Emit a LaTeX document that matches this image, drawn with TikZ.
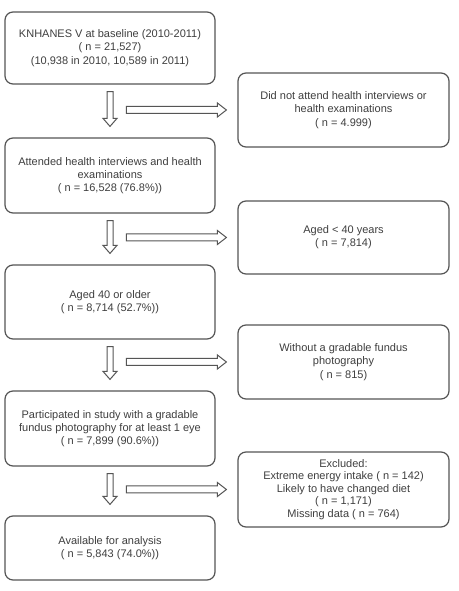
\documentclass[tikz,border=0pt]{standalone}
\usepackage{fontspec}
\setmainfont{Liberation Sans}
\usetikzlibrary{calc}
\definecolor{edge}{HTML}{555555}
\definecolor{ink}{HTML}{3F3F3F}
\tikzset{
  stage/.style={draw=edge, line width=1.2pt, rounded corners=8pt,
    minimum width=210pt, minimum height=#1, inner sep=0pt,
    align=center, text=ink, font=\fontsize{11}{13.3}\selectfont},
  stage/.default=74pt,
  blk/.style={draw=edge, line width=1pt, fill=white, line join=miter},
}
% hollow block arrow pointing down, from #1 to the tip #2
\newcommand\downblock[2]{%
  \draw[blk] let \p1=(#1), \p2=(#2) in
    (\x1-3pt,\y1) -- (\x1+3pt,\y1) -- (\x1+3pt,\y2+8pt) -- (\x1+7pt,\y2+8pt)
    -- (\x1,\y2) -- (\x1-7pt,\y2+8pt) -- (\x1-3pt,\y2+8pt) -- cycle;}
% hollow block arrow pointing right, from #1 to the tip #2
\newcommand\rightblock[2]{%
  \draw[blk] let \p1=(#1), \p2=(#2) in
    (\x1,\y1-3.5pt) -- (\x2-9pt,\y1-3.5pt) -- (\x2-9pt,\y1-7pt) -- (\x2,\y1)
    -- (\x2-9pt,\y1+7pt) -- (\x2-9pt,\y1+3.5pt) -- (\x1,\y1+3.5pt) -- cycle;}
\begin{document}
\begin{tikzpicture}[x=1pt,y=1pt]
\useasboundingbox[fill=white] (0,0) rectangle (458,591);

% main flow (left column)
\node[stage=72pt] (b1) at (110,543) {KNHANES V at baseline (2010-2011)\\( n = 21,527)\\(10,938 in 2010, 10,589 in 2011)};
\node[stage=75pt] (b2) at (110,415.5) {Attended health interviews and health\\examinations\\( n = 16,528 (76.8\%))};
\node[stage=74pt] (b3) at (110,289) {Aged 40 or older\\( n = 8,714 (52.7\%))};
\node[stage=75pt] (b4) at (110,162.5) {Participated in study with a gradable\\fundus photography for at least 1 eye\\( n = 7,899 (90.6\%))};
\node[stage=64pt] (b5) at (110,43) {Available for analysis\\( n = 5,843 (74.0\%))};

% exclusions (right column)
\node[stage=74pt, minimum width=211pt] (r1) at (343.5,481) {Did not attend health interviews or\\health examinations\\( n = 4.999)};
\node[stage=73pt, minimum width=211pt] (r2) at (343.5,353.5) {Aged < 40 years\\( n = 7,814)};
\node[stage=74pt, minimum width=211pt] (r3) at (343.5,229) {Without a gradable fundus\\photography\\( n = 815)};
\node[stage=75pt, minimum width=211pt, font=\fontsize{11}{12.5}\selectfont] (r4) at (343.5,101.5) {Excluded:\\Extreme energy intake ( n = 142)\\Likely to have changed diet\\( n = 1,171)\\Missing data ( n = 764)};

% arrow end points
\foreach \a/\b in {b1/b2, b2/b3, b3/b4, b4/b5} {
  \coordinate (\a-out) at ($(\a.south)+(0,-7)$);
  \coordinate (\b-in) at ($(\b.north)+(0,11)$);
}
\foreach \r in {r1,r2,r3,r4} {
  \coordinate (\r-from) at ($(\r.west)+(-111,0)$);
  \coordinate (\r-to) at ($(\r.west)+(-11,0)$);
}

% downward arrows
\downblock{b1-out}{b2-in}
\downblock{b2-out}{b3-in}
\downblock{b3-out}{b4-in}
\downblock{b4-out}{b5-in}

% arrows to the exclusion boxes
\rightblock{r1-from}{r1-to}
\rightblock{r2-from}{r2-to}
\rightblock{r3-from}{r3-to}
\rightblock{r4-from}{r4-to}
\end{tikzpicture}
\end{document}
